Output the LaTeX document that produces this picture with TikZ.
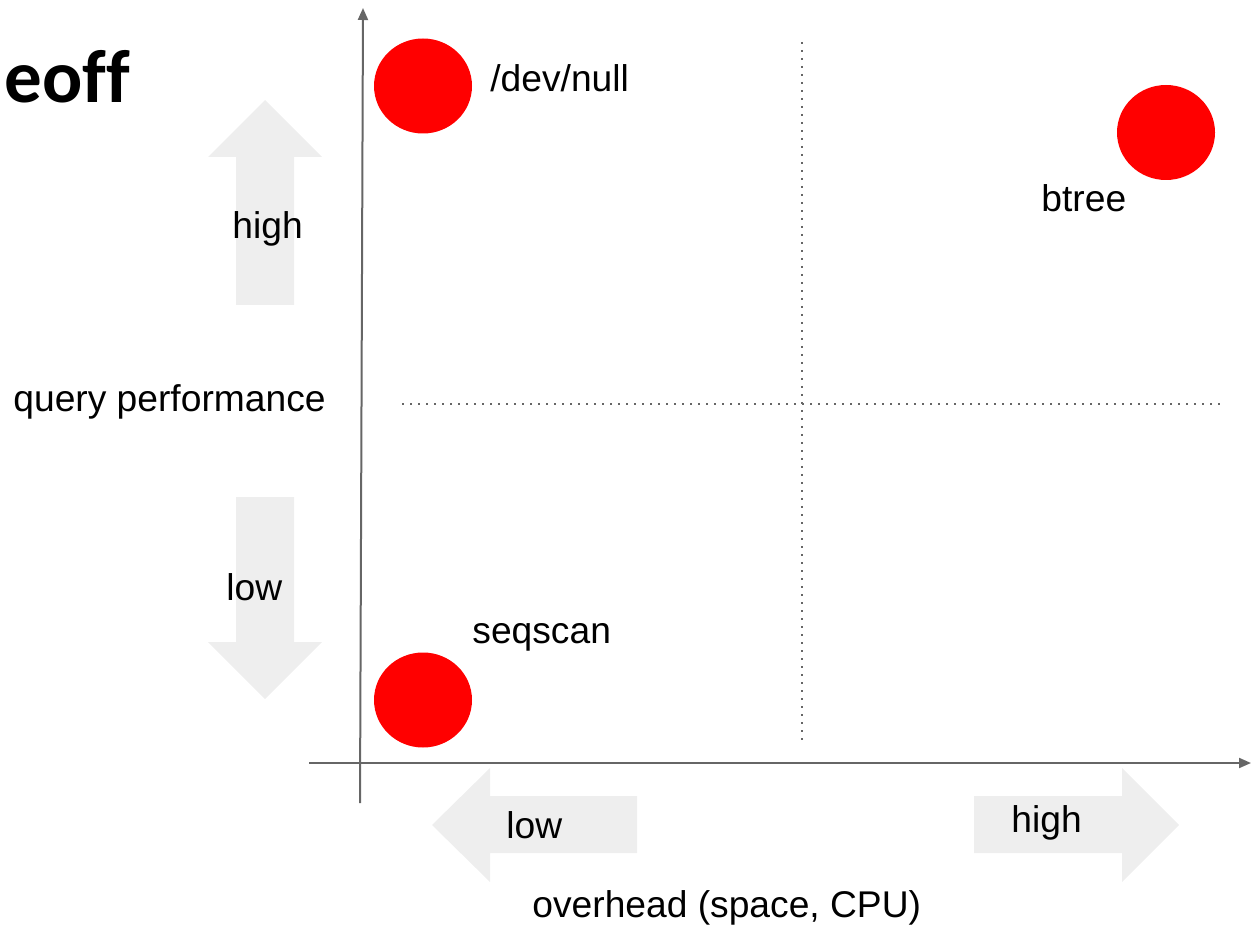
\documentclass[tikz,border=0pt]{standalone}
\usepackage{fontspec}
\setmainfont{Liberation Sans}
\newfontfamily\titlefont[Ligatures=NoCommon]{Carlito}
\usetikzlibrary{arrows.meta}
\definecolor{axisgray}{HTML}{666666}
\definecolor{arrowfill}{HTML}{EEEEEE}
\definecolor{dotred}{HTML}{FF0000}
\tikzset{
  lbl/.style={inner sep=0pt, font=\fontsize{18.6}{22}\selectfont, anchor=base west},
  axisline/.style={draw=axisgray, line width=1pt, -{Triangle[length=6pt,width=5pt]}},
  guide/.style={draw=axisgray, line width=0.8pt, dash pattern=on 0.8pt off 3.2pt},
  bigarrow/.style={fill=arrowfill, draw=none},
  dot/.style={fill=dotred, draw=none},
}
\begin{document}
\begin{tikzpicture}[x=0.5pt,y=-0.5pt]
\useasboundingbox (0,0) rectangle (1253,925);
% gray direction arrows
\fill[bigarrow] (265,100) -- (322,157) -- (294,157) -- (294,305) -- (236,305) -- (236,157) -- (208,157) -- cycle;
\fill[bigarrow] (236,497) -- (294,497) -- (294,642) -- (322,642) -- (265,699) -- (208,642) -- (236,642) -- cycle;
\fill[bigarrow] (432,825) -- (490,768) -- (490,796) -- (637,796) -- (637,853) -- (490,853) -- (490,882) -- cycle;
\fill[bigarrow] (974,796) -- (1122,796) -- (1122,768) -- (1179,825) -- (1122,882) -- (1122,853) -- (974,853) -- cycle;
% axes
\coordinate (yb) at (360,803);
\coordinate (yt) at (363,8);
\coordinate (xl) at (309,763);
\coordinate (xr) at (1251,763);
\draw[axisline] (yb) -- (yt);
\draw[axisline] (xl) -- (xr);
% dotted quadrant guides
\coordinate (vt) at (802,42);
\coordinate (vb) at (802,742);
\coordinate (hl) at (402,404);
\coordinate (hr) at (1221,404);
\draw[guide] (vt) -- (vb);
\draw[guide] (hl) -- (hr);
% dots
\fill[dot] (423,86) ellipse [x radius=49, y radius=47.5];
\fill[dot] (1166,132.5) ellipse [x radius=49, y radius=47.5];
\fill[dot] (423,700) ellipse [x radius=49, y radius=47.5];
% labels
\node[inner sep=0pt, anchor=base west, font=\titlefont\bfseries\fontsize{37.5}{40}\selectfont] (title) at (4,103) {eoff};
\node[lbl] (devnull) at (490,92) {/dev/null};
\node[lbl] (btree) at (1041,212) {btree};
\node[lbl] (seqscan) at (472,643) {seqscan};
\node[lbl] (qp) at (13,411) {query performance};
\node[lbl] (oh) at (532,917) {overhead (space, CPU)};
\node[lbl] (yhigh) at (232,239) {high};
\node[lbl] (ylow) at (226,600) {low};
\node[lbl] (xlow) at (506,838) {low};
\node[lbl] (xhigh) at (1011,832) {high};
\end{tikzpicture}
\end{document}
